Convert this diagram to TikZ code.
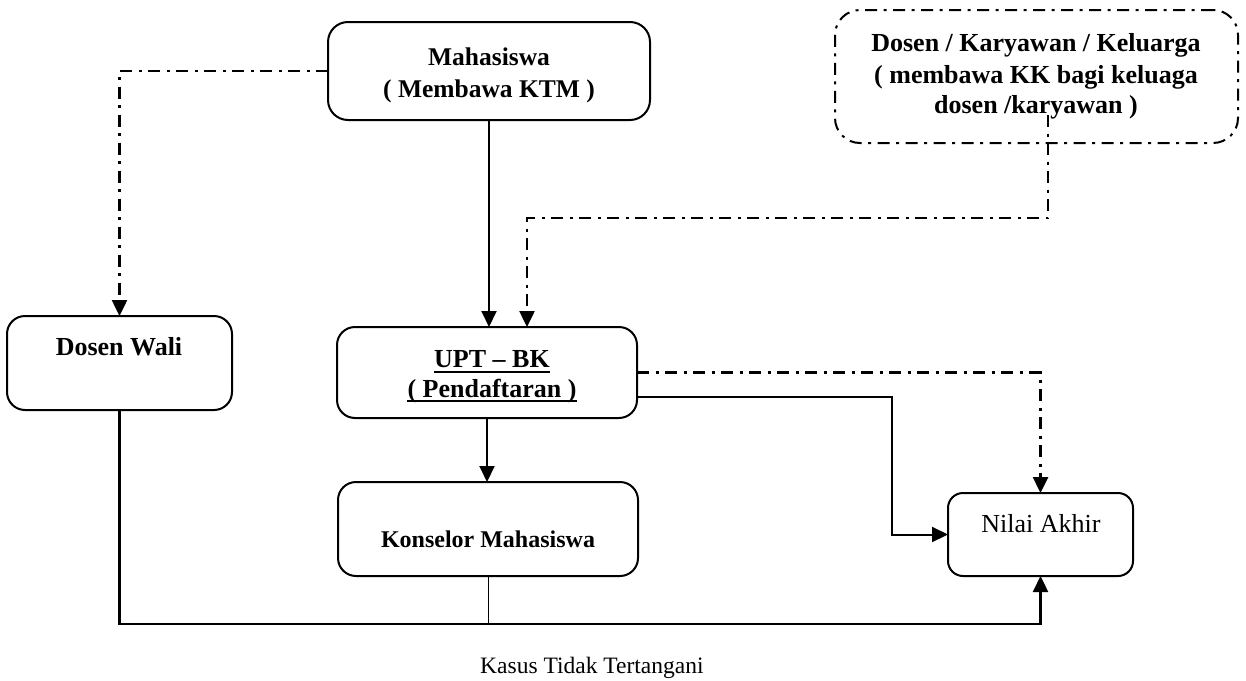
\documentclass[tikz,border=0pt]{standalone}
\usepackage{fontspec}
\setmainfont{Liberation Serif}
\usetikzlibrary{arrows.meta}
\begin{document}
\begin{tikzpicture}[x=1pt,y=-1pt,
  box/.style={draw, line width=2pt, rounded corners=#1, inner sep=0pt, outer sep=0pt},
  box/.default=18pt,
  conn/.style={line width=2pt},
  dashdot/.style={line width=2.5pt, dash pattern=on 12pt off 6.5pt on 3pt off 6.5pt},
  arr/.style={-{Triangle[length=16pt,width=15pt]}},
  bt/.style={inner sep=0pt, anchor=base, font=\fontsize{26}{31}\selectfont\bfseries},
  rt/.style={inner sep=0pt, anchor=base, font=\fontsize{26}{31}\selectfont},
  uline/.style={line width=2.6pt}
]
\useasboundingbox (0,0) rectangle (1246,680);

% boxes
\node[box=20pt, minimum width=322pt, minimum height=98pt] (mah) at (489,71) {};
\node[box=25pt, dashdot, line width=2pt, minimum width=403pt, minimum height=133pt] (dk) at (1036.5,76.5) {};
\node[box, minimum width=225pt, minimum height=94pt] (wali) at (119.5,363) {};
\node[box, minimum width=300pt, minimum height=91pt] (upt) at (487,372.5) {};
\node[box, minimum width=300pt, minimum height=94pt] (kons) at (488,529) {};
\node[box=15pt, minimum width=185pt, minimum height=83pt] (nilai) at (1040.5,534.5) {};

% texts
\node[bt, font=\fontsize{25.5}{31}\selectfont\bfseries] (mahA) at (489,65) {Mahasiswa};
\node[bt, font=\fontsize{25.5}{31}\selectfont\bfseries] (mahB) at (489,97) {( Membawa KTM )};
\node[bt] (dkA) at (1036,51) {Dosen / Karyawan / Keluarga};
\node[bt] (dkB) at (1036,83) {( membawa KK bagi keluaga};
\node[bt] (dkC) at (1036,113) {dosen /karyawan )};
\node[bt] (waliT) at (119,355) {Dosen Wali};
\node[bt] (uptA) at (492,367) {UPT – BK};
\node[bt] (uptB) at (492,397) {( Pendaftaran )};
\draw[uline] ([yshift=-5pt]uptA.base west) -- ([yshift=-5pt]uptA.base east);
\draw[uline] ([yshift=-4pt]uptB.base west) -- ([yshift=-4pt]uptB.base east);
\node[bt, font=\fontsize{24}{29}\selectfont\bfseries] (konsT) at (488,547) {Konselor Mahasiswa};
\node[rt] (nilaiT) at (1041,532) {Nilai Akhir};
\node[rt, anchor=base west, font=\fontsize{23.5}{28}\selectfont] (caption) at (480,673) {Kasus Tidak Tertangani};

% helper points
\coordinate (dktap) at (1048,115);
\coordinate (jog) at (527,218);
\coordinate (bend) at (892,397);
\coordinate (floor) at (0,624);

% connectors
\draw[conn, arr] (mah.south) -- (mah.south |- upt.north);
\draw[dashdot, arr] (dktap) |- (jog) -- (jog |- upt.north);
\draw[dashdot, arr] (mah.west) -| (wali.north);
\draw[dashdot, arr] (upt.east) -| (nilai.north);
\draw[conn, arr] (bend -| upt.east) -- (bend) |- (nilai.west);
\draw[conn, arr] (upt.south) -- (upt.south |- kons.north);
\draw[conn, line width=2.4pt, arr] (wali.south) -- (wali.south |- floor) -| (nilai.south);
\draw[line width=1pt] (kons.south) -- (kons.south |- floor);
\end{tikzpicture}
\end{document}
